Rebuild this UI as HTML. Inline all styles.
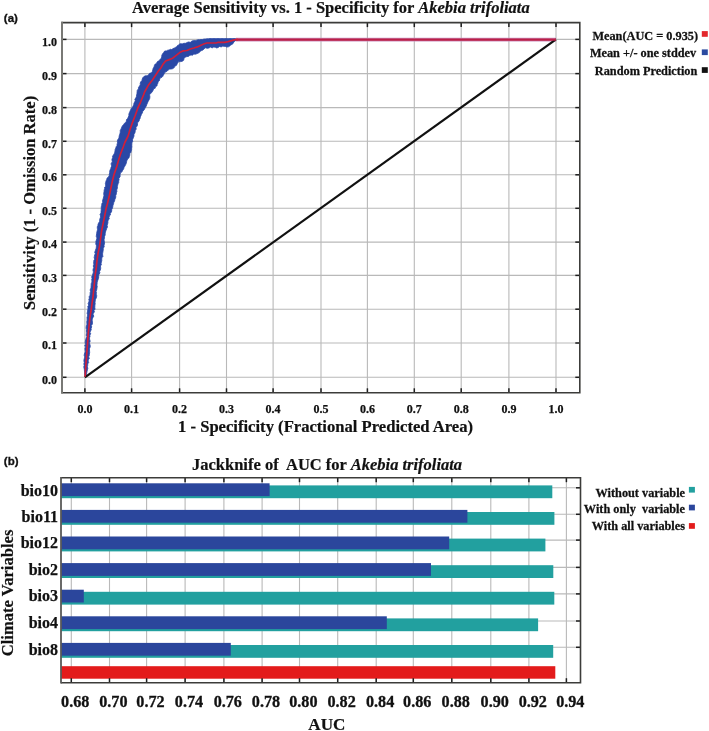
<!DOCTYPE html>
<html><head><meta charset="utf-8"><title>ROC and Jackknife</title>
<style>html,body{margin:0;padding:0;background:#fff;width:709px;height:731px;overflow:hidden}svg{display:block;will-change:transform}</style>
</head><body>
<svg width="709" height="731" viewBox="0 0 709 731"><g stroke="#b9b9b9" stroke-width="1.1"><line x1="84.90" y1="22.6" x2="84.90" y2="392.8"/><line x1="62.0" y1="377.30" x2="579.8" y2="377.30"/><line x1="131.60" y1="22.6" x2="131.60" y2="392.8"/><line x1="62.0" y1="343.00" x2="579.8" y2="343.00"/><line x1="179.60" y1="22.6" x2="179.60" y2="392.8"/><line x1="62.0" y1="309.20" x2="579.8" y2="309.20"/><line x1="226.50" y1="22.6" x2="226.50" y2="392.8"/><line x1="62.0" y1="275.40" x2="579.8" y2="275.40"/><line x1="273.10" y1="22.6" x2="273.10" y2="392.8"/><line x1="62.0" y1="242.10" x2="579.8" y2="242.10"/><line x1="321.00" y1="22.6" x2="321.00" y2="392.8"/><line x1="62.0" y1="208.30" x2="579.8" y2="208.30"/><line x1="367.40" y1="22.6" x2="367.40" y2="392.8"/><line x1="62.0" y1="174.80" x2="579.8" y2="174.80"/><line x1="414.30" y1="22.6" x2="414.30" y2="392.8"/><line x1="62.0" y1="141.30" x2="579.8" y2="141.30"/><line x1="461.20" y1="22.6" x2="461.20" y2="392.8"/><line x1="62.0" y1="107.60" x2="579.8" y2="107.60"/><line x1="508.90" y1="22.6" x2="508.90" y2="392.8"/><line x1="62.0" y1="73.60" x2="579.8" y2="73.60"/><line x1="556.00" y1="22.6" x2="556.00" y2="392.8"/><line x1="62.0" y1="39.40" x2="579.8" y2="39.40"/></g>
<polygon points="85.0,377.0 84.87,375.53 84.73,374.07 84.6,372.6 84.47,371.13 84.37,369.66 84.05,368.2 83.75,366.77 84.28,365.38 83.8,363.95 84.28,362.55 83.91,361.12 83.97,359.71 84.38,358.31 84.86,356.92 84.18,355.46 84.38,354.06 84.91,352.68 85.35,351.29 85.03,349.86 84.93,348.43 85.65,347.06 84.72,345.59 85.7,344.24 85.17,342.77 85.38,341.08 85.72,339.44 86.29,337.87 86.85,336.52 86.15,335.14 86.59,333.76 86.65,332.38 86.36,331.0 86.61,329.64 86.14,328.26 86.2,326.9 86.42,325.55 87.0,324.21 86.8,322.84 86.76,321.47 87.13,320.13 87.07,318.76 86.98,317.39 87.57,316.03 87.52,314.64 87.07,313.24 87.48,311.87 87.48,310.48 87.91,309.15 88.0,307.8 87.77,306.36 88.77,305.15 88.09,303.63 88.63,302.31 89.22,300.98 88.78,299.5 89.37,298.18 89.1,296.73 89.92,295.46 90.17,294.11 90.1,292.73 90.57,291.4 90.1,289.96 91.01,287.94 91.04,286.53 91.17,285.15 91.17,283.76 91.73,282.42 91.99,281.06 91.67,279.64 92.08,278.31 91.62,276.85 92.52,275.59 92.66,274.22 93.26,272.93 93.29,271.54 92.93,270.08 93.26,268.74 93.78,267.42 93.22,265.97 93.84,264.64 93.66,263.22 93.74,261.84 93.82,260.45 94.71,259.17 94.13,257.74 94.38,256.4 94.66,255.05 95.31,253.75 94.66,252.25 95.28,250.93 95.61,249.57 96.2,248.25 96.35,246.83 96.4,245.44 95.76,244.08 95.91,242.72 95.84,241.36 96.42,240.06 97.0,237.99 96.26,236.48 96.43,235.1 96.63,233.73 96.77,232.35 97.18,231.0 97.5,229.65 97.34,228.24 97.26,226.84 97.91,225.55 98.06,224.17 98.69,222.86 99.52,221.63 99.66,220.18 99.9,218.77 100.43,217.42 100.59,215.93 100.01,214.4 101.04,212.98 101.01,211.49 101.21,210.01 101.22,208.56 101.25,206.87 101.73,205.27 101.88,203.59 102.78,202.36 102.51,200.82 102.86,199.45 103.35,198.1 103.63,196.74 103.94,195.42 103.75,194.04 103.81,192.67 104.1,191.33 104.17,189.94 104.68,188.69 104.54,187.34 105.69,186.21 105.64,184.88 105.36,183.5 105.7,182.24 106.04,180.95 106.68,179.58 107.06,178.11 108.41,177.08 109.17,175.78 109.26,174.19 109.68,172.83 109.66,171.35 110.08,170.0 110.73,168.71 111.05,167.35 111.8,166.06 111.21,164.6 111.2,163.21 112.35,161.93 112.03,160.51 111.96,159.05 112.73,157.79 112.52,156.29 113.39,155.07 114.2,153.86 114.63,152.47 115.02,151.02 115.14,149.46 115.8,148.12 116.15,146.69 117.04,145.53 117.04,144.16 117.55,142.88 117.32,141.46 117.53,140.05 118.48,138.83 118.99,137.5 119.17,136.1 119.54,134.74 119.97,133.38 120.31,132.0 120.19,130.47 120.92,129.21 121.5,127.98 121.93,126.65 122.66,125.52 123.63,124.53 124.34,123.39 125.49,122.5 126.38,121.23 126.49,119.62 127.6,118.46 128.27,117.1 128.86,115.71 128.88,114.08 129.36,112.65 129.99,111.3 130.58,109.92 131.2,108.57 132.24,107.38 133.14,106.12 133.7,104.71 133.96,103.17 134.76,101.86 135.25,100.62 134.82,99.15 135.77,98.04 136.41,96.53 136.65,94.92 136.99,93.34 137.08,91.69 137.29,90.15 138.45,88.96 138.5,87.36 139.51,86.12 140.24,84.79 140.21,83.16 140.78,81.76 141.9,80.58 142.21,79.14 142.79,77.69 143.86,76.57 145.32,75.83 147.11,75.83 148.48,74.99 149.52,73.33 151.47,72.84 152.37,71.44 152.75,69.88 153.15,68.33 154.05,67.03 154.35,65.57 154.94,64.28 156.55,63.58 156.92,62.21 157.88,61.29 159.23,60.81 159.94,59.55 161.07,58.38 161.72,56.96 161.82,55.26 162.57,53.86 163.67,52.46 164.73,50.97 166.36,50.93 167.7,50.21 169.17,50.01 170.29,49.27 171.81,49.62 172.82,48.6 174.08,48.26 175.32,47.44 176.71,46.78 177.55,45.43 178.94,45.01 179.7,43.8 181.13,43.84 182.57,43.83 183.93,43.28 185.38,43.34 186.7,42.66 188.4,41.98 190.41,42.31 191.97,40.96 193.89,40.57 195.34,40.61 196.71,40.19 198.07,39.71 199.5,39.69 200.91,39.49 202.34,39.51 203.84,39.08 205.38,38.96 206.92,38.84 208.46,38.72 210.0,38.6 211.33,38.6 212.66,38.6 213.99,38.6 215.33,38.6 216.66,38.6 217.99,38.6 219.32,38.6 220.65,38.6 221.98,38.6 223.32,38.6 224.65,38.6 225.98,38.6 227.31,38.6 228.64,38.6 229.97,38.6 231.31,38.6 232.64,38.6 233.97,38.6 235.3,38.6 237.4,39.9 235.02,40.9 233.87,41.94 233.15,43.48 231.95,44.43 230.57,44.99 229.64,46.15 228.29,46.87 226.78,47.07 225.37,46.41 223.95,46.29 222.53,46.16 221.12,46.98 219.62,46.38 218.24,47.43 216.76,47.99 215.22,47.18 213.68,47.09 212.14,47.91 210.55,47.1 208.82,48.06 207.0,48.31 205.66,47.78 204.15,48.67 202.98,50.03 201.69,50.51 200.49,51.19 198.89,52.75 197.17,53.61 195.36,54.19 193.81,54.1 192.55,55.18 190.98,54.94 189.62,55.53 188.37,56.44 186.88,56.57 185.33,57.19 183.99,58.19 183.75,60.13 182.27,61.28 180.76,61.58 178.87,61.6 177.48,63.13 177.13,64.02 176.41,65.4 174.86,66.1 174.25,67.6 172.49,68.76 171.14,69.03 169.7,69.1 168.14,70.04 166.81,71.44 165.87,71.87 164.35,72.93 163.84,74.66 163.35,74.84 162.85,76.32 161.9,77.34 160.43,77.86 159.67,79.04 159.52,80.57 158.1,81.63 157.89,83.15 157.21,84.44 156.98,85.96 155.45,86.5 155.24,88.13 153.68,88.66 153.11,90.33 152.28,91.8 151.15,93.07 149.57,94.81 149.92,96.72 149.73,98.41 148.97,99.99 147.84,101.95 147.37,103.36 146.7,104.71 146.19,106.14 145.42,107.45 144.68,108.79 143.93,110.16 142.73,111.28 142.42,112.89 141.46,114.14 141.02,115.65 140.32,116.94 140.11,118.45 139.34,119.74 139.04,121.21 137.76,122.32 137.53,123.74 137.49,125.22 136.77,126.49 135.86,127.7 136.31,129.33 135.16,130.46 135.17,131.94 134.71,133.28 133.95,134.54 134.01,136.03 133.56,137.33 133.03,138.62 132.38,139.87 132.72,141.49 131.84,142.84 131.84,144.18 131.78,145.48 131.9,146.82 131.62,148.22 131.6,149.68 131.18,151.04 130.9,152.43 129.85,153.62 129.81,155.16 129.36,156.56 128.9,157.95 127.59,159.0 127.03,160.33 126.55,161.8 126.26,163.37 125.61,164.77 124.88,166.12 124.04,167.42 123.66,168.93 122.69,170.15 122.19,171.6 120.83,172.61 120.12,174.01 120.13,175.54 120.03,177.0 118.85,178.13 119.12,179.7 118.65,181.04 118.76,182.49 118.07,183.79 117.69,185.15 117.38,186.52 117.42,187.96 116.69,190.0 116.95,191.47 116.39,192.77 116.3,194.17 115.69,195.46 115.79,196.91 115.47,198.31 114.83,199.61 114.57,201.01 113.85,202.3 113.57,203.69 113.0,205.24 112.76,206.86 112.37,208.43 111.71,209.62 111.71,211.09 111.28,212.38 110.1,213.39 110.46,215.0 109.37,216.04 108.95,217.36 109.33,218.85 108.22,220.05 107.9,221.4 107.92,222.81 107.55,224.14 107.13,225.48 107.5,227.02 106.75,228.27 106.44,229.64 105.74,230.92 105.49,232.31 105.19,233.69 105.17,235.12 104.56,236.43 104.5,237.86 103.99,239.96 104.42,241.38 104.55,242.75 104.36,244.1 104.03,245.45 104.23,246.84 103.23,248.13 103.34,249.55 103.06,250.92 102.86,252.3 102.6,253.67 102.61,255.06 102.94,256.5 101.88,257.73 101.73,259.1 101.8,260.5 101.48,261.87 101.07,263.23 101.43,264.73 100.42,265.97 100.67,267.45 100.66,268.83 100.26,270.16 99.55,271.44 99.92,272.89 99.14,274.15 98.55,275.43 98.73,276.92 98.51,278.31 98.06,279.65 97.5,280.96 97.19,282.33 97.13,283.74 96.88,285.12 97.28,286.59 96.99,287.95 96.67,290.02 96.07,291.35 96.49,292.73 96.15,294.08 96.7,295.46 96.58,296.85 96.13,298.22 95.47,299.53 95.23,300.91 95.03,302.29 95.23,303.72 94.91,305.05 94.89,306.4 94.81,307.75 95.12,309.15 93.99,310.4 94.46,311.93 93.33,313.14 93.1,314.54 93.8,316.12 93.04,317.41 92.45,318.71 92.09,320.05 92.46,321.49 92.45,322.88 92.31,324.26 91.24,325.46 91.75,326.98 91.07,328.26 91.27,329.72 90.57,331.0 89.96,332.33 90.72,333.8 89.83,335.1 90.03,336.52 89.47,337.88 89.68,339.53 90.2,341.17 89.46,342.79 89.83,344.21 90.24,345.65 90.17,347.06 89.55,348.44 89.5,349.85 89.58,351.27 89.66,352.7 89.35,354.09 89.29,355.5 88.63,356.87 89.37,358.38 88.38,359.69 88.1,361.09 88.71,362.6 87.66,363.9 87.72,365.35 87.34,366.73 87.83,368.24 87.47,369.69 87.07,371.13 86.8,372.6 86.53,374.07 86.27,375.53 86,377" fill="#2a48a6" stroke="#2a48a6" stroke-width="0.8" stroke-linejoin="round"/>
<line x1="236" y1="39.6" x2="556.0" y2="39.6" stroke="#c990bd" stroke-width="3.6"/>
<line x1="84.9" y1="377.3" x2="556.0" y2="39.4" stroke="#111" stroke-width="2.2"/>
<line x1="236" y1="39.6" x2="556.0" y2="39.6" stroke="#bb1f47" stroke-width="2.2"/>
<polyline points="85.1,376.7 85.6,368.2 86.5,356.9 87.6,342.8 87.9,337.9 88.5,331 89.2,324.2 89.9,317.4 91.3,309.1 92,303.7 93,296.8 93.7,290 94.6,281 95.3,274.2 96.3,267.4 97,260.5 98,253.7 99.4,246.8 100.4,240 101.6,231 103,224.2 104.4,217.4 106.1,208.5 107.4,203.7 109.1,196.8 110.5,190 112.4,181 114.1,174.2 116.5,167.4 118.5,160.5 120.6,153.7 123.3,146.8 124.8,142.5 128.1,136 130.1,129.2 132.5,122.4 135.2,115.5 137.6,108.7 140.7,101.8 143.5,95 144.6,92 148.3,85.3 152.6,79.7 155.4,75.5 158.2,71.2 161,67.7 162.8,64.6 165.6,61 169.2,59.6 172.7,58.2 176.2,55.4 179.7,52.6 183.3,50.8 186.8,50.5 190.3,49 193.9,48 197.4,46.9 200.9,45.2 204.4,43.8 207,43 216.2,43 218.3,42.3 224.7,42.3 228.2,41.6 231.7,40.6 235.3,39.6 238,39.6" fill="none" stroke="#d01f3a" stroke-width="1.7" stroke-linejoin="round"/>
<g stroke="#1e1e1e" stroke-width="1.5"><line x1="84.90" y1="22.6" x2="84.90" y2="27.1"/><line x1="84.90" y1="392.8" x2="84.90" y2="388.3"/><line x1="62.0" y1="377.30" x2="66.5" y2="377.30"/><line x1="579.8" y1="377.30" x2="575.3" y2="377.30"/><line x1="131.60" y1="22.6" x2="131.60" y2="27.1"/><line x1="131.60" y1="392.8" x2="131.60" y2="388.3"/><line x1="62.0" y1="343.00" x2="66.5" y2="343.00"/><line x1="579.8" y1="343.00" x2="575.3" y2="343.00"/><line x1="179.60" y1="22.6" x2="179.60" y2="27.1"/><line x1="179.60" y1="392.8" x2="179.60" y2="388.3"/><line x1="62.0" y1="309.20" x2="66.5" y2="309.20"/><line x1="579.8" y1="309.20" x2="575.3" y2="309.20"/><line x1="226.50" y1="22.6" x2="226.50" y2="27.1"/><line x1="226.50" y1="392.8" x2="226.50" y2="388.3"/><line x1="62.0" y1="275.40" x2="66.5" y2="275.40"/><line x1="579.8" y1="275.40" x2="575.3" y2="275.40"/><line x1="273.10" y1="22.6" x2="273.10" y2="27.1"/><line x1="273.10" y1="392.8" x2="273.10" y2="388.3"/><line x1="62.0" y1="242.10" x2="66.5" y2="242.10"/><line x1="579.8" y1="242.10" x2="575.3" y2="242.10"/><line x1="321.00" y1="22.6" x2="321.00" y2="27.1"/><line x1="321.00" y1="392.8" x2="321.00" y2="388.3"/><line x1="62.0" y1="208.30" x2="66.5" y2="208.30"/><line x1="579.8" y1="208.30" x2="575.3" y2="208.30"/><line x1="367.40" y1="22.6" x2="367.40" y2="27.1"/><line x1="367.40" y1="392.8" x2="367.40" y2="388.3"/><line x1="62.0" y1="174.80" x2="66.5" y2="174.80"/><line x1="579.8" y1="174.80" x2="575.3" y2="174.80"/><line x1="414.30" y1="22.6" x2="414.30" y2="27.1"/><line x1="414.30" y1="392.8" x2="414.30" y2="388.3"/><line x1="62.0" y1="141.30" x2="66.5" y2="141.30"/><line x1="579.8" y1="141.30" x2="575.3" y2="141.30"/><line x1="461.20" y1="22.6" x2="461.20" y2="27.1"/><line x1="461.20" y1="392.8" x2="461.20" y2="388.3"/><line x1="62.0" y1="107.60" x2="66.5" y2="107.60"/><line x1="579.8" y1="107.60" x2="575.3" y2="107.60"/><line x1="508.90" y1="22.6" x2="508.90" y2="27.1"/><line x1="508.90" y1="392.8" x2="508.90" y2="388.3"/><line x1="62.0" y1="73.60" x2="66.5" y2="73.60"/><line x1="579.8" y1="73.60" x2="575.3" y2="73.60"/><line x1="556.00" y1="22.6" x2="556.00" y2="27.1"/><line x1="556.00" y1="392.8" x2="556.00" y2="388.3"/><line x1="62.0" y1="39.40" x2="66.5" y2="39.40"/><line x1="579.8" y1="39.40" x2="575.3" y2="39.40"/></g>
<path d="M61.2,22.6 H579.8 V392.8 H61.2" fill="none" stroke="#3c3c3a" stroke-width="1.6" stroke-linejoin="miter"/>
<line x1="62.0" y1="21.8" x2="62.0" y2="393.6" stroke="#797975" stroke-width="2"/>
<g style="font-family:'Liberation Serif',serif;font-weight:bold;font-size:12px" fill="#111" stroke="#111" stroke-width="0.25"><text x="84.90" y="412.7" text-anchor="middle">0.0</text><text x="57" y="383.60" text-anchor="end">0.0</text><text x="131.60" y="412.7" text-anchor="middle">0.1</text><text x="57" y="349.30" text-anchor="end">0.1</text><text x="179.60" y="412.7" text-anchor="middle">0.2</text><text x="57" y="315.50" text-anchor="end">0.2</text><text x="226.50" y="412.7" text-anchor="middle">0.3</text><text x="57" y="281.70" text-anchor="end">0.3</text><text x="273.10" y="412.7" text-anchor="middle">0.4</text><text x="57" y="248.40" text-anchor="end">0.4</text><text x="321.00" y="412.7" text-anchor="middle">0.5</text><text x="57" y="214.60" text-anchor="end">0.5</text><text x="367.40" y="412.7" text-anchor="middle">0.6</text><text x="57" y="181.10" text-anchor="end">0.6</text><text x="414.30" y="412.7" text-anchor="middle">0.7</text><text x="57" y="147.60" text-anchor="end">0.7</text><text x="461.20" y="412.7" text-anchor="middle">0.8</text><text x="57" y="113.90" text-anchor="end">0.8</text><text x="508.90" y="412.7" text-anchor="middle">0.9</text><text x="57" y="79.90" text-anchor="end">0.9</text><text x="556.00" y="412.7" text-anchor="middle">1.0</text><text x="57" y="45.70" text-anchor="end">1.0</text></g>
<text id="ta" stroke="#111" stroke-width="0.2" x="132" y="13" style="font-family:'Liberation Serif',serif;font-weight:bold;font-size:16.5px" fill="#111">Average Sensitivity vs. 1 - Specificity for <tspan font-style="italic">Akebia trifoliata</tspan></text>
<text id="xa" stroke="#111" stroke-width="0.2" x="178" y="431.7" style="font-family:'Liberation Serif',serif;font-weight:bold;font-size:16.62px" fill="#111">1 - Specificity (Fractional Predicted Area)</text>
<text id="ya" stroke="#111" stroke-width="0.2" transform="translate(35.3,310) rotate(-90)" x="0" y="0" style="font-family:'Liberation Serif',serif;font-weight:bold;font-size:16.56px" fill="#111">Sensitivity (1 - Omission Rate)</text>
<text id="pa" x="3.8" y="21.5" style="font-family:'Liberation Sans',sans-serif;font-weight:bold;font-size:11.5px" fill="#111" stroke="#111" stroke-width="0.3">(a)</text>
<g style="font-family:'Liberation Serif',serif;font-weight:bold;font-size:12.3px" fill="#111" stroke="#111" stroke-width="0.25" text-anchor="end"><text id="la1" transform="translate(698,39.8) scale(1,1.06)">Mean(AUC = 0.935)</text><text id="la2" transform="translate(696.2,57.3) scale(1,1.06)">Mean +/- one stddev</text><text id="la3" transform="translate(697.3,74.6) scale(1,1.06)">Random Prediction</text></g>
<rect x="701.8" y="31.1" width="6" height="5.7" fill="#e3262b"/>
<rect x="701.8" y="49.4" width="6" height="5.7" fill="#2b4ba0"/>
<rect x="701.8" y="67.2" width="6" height="5.7" fill="#111"/>
<g stroke="#b9b9b9" stroke-width="1.1"><line x1="71.30" y1="477.7" x2="71.30" y2="682.7"/><line x1="109.50" y1="477.7" x2="109.50" y2="682.7"/><line x1="146.60" y1="477.7" x2="146.60" y2="682.7"/><line x1="185.10" y1="477.7" x2="185.10" y2="682.7"/><line x1="223.90" y1="477.7" x2="223.90" y2="682.7"/><line x1="262.10" y1="477.7" x2="262.10" y2="682.7"/><line x1="299.50" y1="477.7" x2="299.50" y2="682.7"/><line x1="337.70" y1="477.7" x2="337.70" y2="682.7"/><line x1="376.20" y1="477.7" x2="376.20" y2="682.7"/><line x1="413.30" y1="477.7" x2="413.30" y2="682.7"/><line x1="451.80" y1="477.7" x2="451.80" y2="682.7"/><line x1="490.80" y1="477.7" x2="490.80" y2="682.7"/><line x1="528.90" y1="477.7" x2="528.90" y2="682.7"/><line x1="566.40" y1="477.7" x2="566.40" y2="682.7"/><line x1="61.0" y1="487.80" x2="580.5" y2="487.80"/><line x1="61.0" y1="514.30" x2="580.5" y2="514.30"/><line x1="61.0" y1="540.10" x2="580.5" y2="540.10"/><line x1="61.0" y1="567.40" x2="580.5" y2="567.40"/><line x1="61.0" y1="593.90" x2="580.5" y2="593.90"/><line x1="61.0" y1="621.00" x2="580.5" y2="621.00"/><line x1="61.0" y1="647.30" x2="580.5" y2="647.30"/></g>
<rect x="61.0" y="485.40" width="491.30" height="12.8" fill="#22a09f"/><rect x="61.0" y="483.30" width="208.60" height="12.8" fill="#2b469c"/><rect x="61.0" y="512.00" width="493.40" height="12.8" fill="#22a09f"/><rect x="61.0" y="509.90" width="406.40" height="12.8" fill="#2b469c"/><rect x="61.0" y="538.60" width="484.40" height="12.8" fill="#22a09f"/><rect x="61.0" y="536.50" width="388.20" height="12.8" fill="#2b469c"/><rect x="61.0" y="565.20" width="492.30" height="12.8" fill="#22a09f"/><rect x="61.0" y="563.10" width="370.00" height="12.8" fill="#2b469c"/><rect x="61.0" y="591.80" width="493.30" height="12.8" fill="#22a09f"/><rect x="61.0" y="589.70" width="22.80" height="12.8" fill="#2b469c"/><rect x="61.0" y="618.40" width="477.10" height="12.8" fill="#22a09f"/><rect x="61.0" y="616.30" width="325.80" height="12.8" fill="#2b469c"/><rect x="61.0" y="645.00" width="492.20" height="12.8" fill="#22a09f"/><rect x="61.0" y="642.90" width="169.80" height="12.8" fill="#2b469c"/><rect x="61.0" y="666.2" width="494.30" height="12.5" fill="#e31b1b"/>
<g stroke="#1e1e1e" stroke-width="1.5"><line x1="71.30" y1="477.7" x2="71.30" y2="482.2"/><line x1="71.30" y1="682.7" x2="71.30" y2="678.2"/><line x1="109.50" y1="477.7" x2="109.50" y2="482.2"/><line x1="109.50" y1="682.7" x2="109.50" y2="678.2"/><line x1="146.60" y1="477.7" x2="146.60" y2="482.2"/><line x1="146.60" y1="682.7" x2="146.60" y2="678.2"/><line x1="185.10" y1="477.7" x2="185.10" y2="482.2"/><line x1="185.10" y1="682.7" x2="185.10" y2="678.2"/><line x1="223.90" y1="477.7" x2="223.90" y2="482.2"/><line x1="223.90" y1="682.7" x2="223.90" y2="678.2"/><line x1="262.10" y1="477.7" x2="262.10" y2="482.2"/><line x1="262.10" y1="682.7" x2="262.10" y2="678.2"/><line x1="299.50" y1="477.7" x2="299.50" y2="482.2"/><line x1="299.50" y1="682.7" x2="299.50" y2="678.2"/><line x1="337.70" y1="477.7" x2="337.70" y2="482.2"/><line x1="337.70" y1="682.7" x2="337.70" y2="678.2"/><line x1="376.20" y1="477.7" x2="376.20" y2="482.2"/><line x1="376.20" y1="682.7" x2="376.20" y2="678.2"/><line x1="413.30" y1="477.7" x2="413.30" y2="482.2"/><line x1="413.30" y1="682.7" x2="413.30" y2="678.2"/><line x1="451.80" y1="477.7" x2="451.80" y2="482.2"/><line x1="451.80" y1="682.7" x2="451.80" y2="678.2"/><line x1="490.80" y1="477.7" x2="490.80" y2="482.2"/><line x1="490.80" y1="682.7" x2="490.80" y2="678.2"/><line x1="528.90" y1="477.7" x2="528.90" y2="482.2"/><line x1="528.90" y1="682.7" x2="528.90" y2="678.2"/><line x1="566.40" y1="477.7" x2="566.40" y2="482.2"/><line x1="566.40" y1="682.7" x2="566.40" y2="678.2"/><line x1="580.5" y1="487.80" x2="576.0" y2="487.80"/><line x1="580.5" y1="514.30" x2="576.0" y2="514.30"/><line x1="580.5" y1="540.10" x2="576.0" y2="540.10"/><line x1="580.5" y1="567.40" x2="576.0" y2="567.40"/><line x1="580.5" y1="593.90" x2="576.0" y2="593.90"/><line x1="580.5" y1="621.00" x2="576.0" y2="621.00"/><line x1="580.5" y1="647.30" x2="576.0" y2="647.30"/></g>
<path d="M61.0,477.7 H580.5 V682.7 H61.0" fill="none" stroke="#3c3c3a" stroke-width="1.6"/>
<line x1="61.0" y1="476.9" x2="61.0" y2="683.5" stroke="#5a5a58" stroke-width="1.8"/>
<g style="font-family:'Liberation Serif',serif;font-weight:bold;font-size:16.2px" fill="#111" stroke="#111" stroke-width="0.3"><text transform="translate(75.20,706.5) scale(1,1.04)" text-anchor="middle">0.68</text><text transform="translate(113.40,706.5) scale(1,1.04)" text-anchor="middle">0.70</text><text transform="translate(150.50,706.5) scale(1,1.04)" text-anchor="middle">0.72</text><text transform="translate(189.00,706.5) scale(1,1.04)" text-anchor="middle">0.74</text><text transform="translate(227.80,706.5) scale(1,1.04)" text-anchor="middle">0.76</text><text transform="translate(266.00,706.5) scale(1,1.04)" text-anchor="middle">0.78</text><text transform="translate(303.40,706.5) scale(1,1.04)" text-anchor="middle">0.80</text><text transform="translate(341.60,706.5) scale(1,1.04)" text-anchor="middle">0.82</text><text transform="translate(380.10,706.5) scale(1,1.04)" text-anchor="middle">0.84</text><text transform="translate(417.20,706.5) scale(1,1.04)" text-anchor="middle">0.86</text><text transform="translate(455.70,706.5) scale(1,1.04)" text-anchor="middle">0.88</text><text transform="translate(494.70,706.5) scale(1,1.04)" text-anchor="middle">0.90</text><text transform="translate(532.80,706.5) scale(1,1.04)" text-anchor="middle">0.92</text><text transform="translate(570.30,706.5) scale(1,1.04)" text-anchor="middle">0.94</text></g>
<g style="font-family:'Liberation Serif',serif;font-weight:bold;font-size:16px" fill="#111" stroke="#111" stroke-width="0.25"><text x="58" y="496.1" text-anchor="end">bio10</text><text x="58" y="522.3" text-anchor="end">bio11</text><text x="58" y="548.3" text-anchor="end">bio12</text><text x="58" y="574.9" text-anchor="end">bio2</text><text x="58" y="601.2" text-anchor="end">bio3</text><text x="58" y="628.4" text-anchor="end">bio4</text><text x="58" y="654.7" text-anchor="end">bio8</text></g>
<text id="tb" stroke="#111" stroke-width="0.2" x="192" y="469.7" style="font-family:'Liberation Serif',serif;font-weight:bold;font-size:16.5px" fill="#111">Jackknife of&#160; AUC for <tspan font-style="italic">Akebia trifoliata</tspan></text>
<text id="xb" stroke="#111" stroke-width="0.2" x="308.3" y="730" style="font-family:'Liberation Serif',serif;font-weight:bold;font-size:17.1px" fill="#111">AUC</text>
<text id="yb" stroke="#111" stroke-width="0.2" transform="translate(12.7,656.3) rotate(-90)" x="0" y="0" style="font-family:'Liberation Serif',serif;font-weight:bold;font-size:16.58px" fill="#111">Climate Variables</text>
<text id="pb" x="3.8" y="464.5" style="font-family:'Liberation Sans',sans-serif;font-weight:bold;font-size:11.5px" fill="#111" stroke="#111" stroke-width="0.3">(b)</text>
<g style="font-family:'Liberation Serif',serif;font-weight:bold;font-size:12.3px" fill="#111" stroke="#111" stroke-width="0.25" text-anchor="end"><text id="lb1" transform="translate(685,496.5) scale(1,1.06)">Without variable</text><text id="lb2" transform="translate(685,512.8) scale(1,1.06)">With only&#160; variable</text><text id="lb3" transform="translate(685,529.8) scale(1,1.06)">With all variables</text></g>
<rect x="688.9" y="486.9" width="6" height="5.7" fill="#22a09f"/>
<rect x="688.9" y="504.7" width="6" height="5.7" fill="#2b469c"/>
<rect x="688.9" y="523.1" width="6" height="5.7" fill="#e31b1b"/></svg>
</body></html>
